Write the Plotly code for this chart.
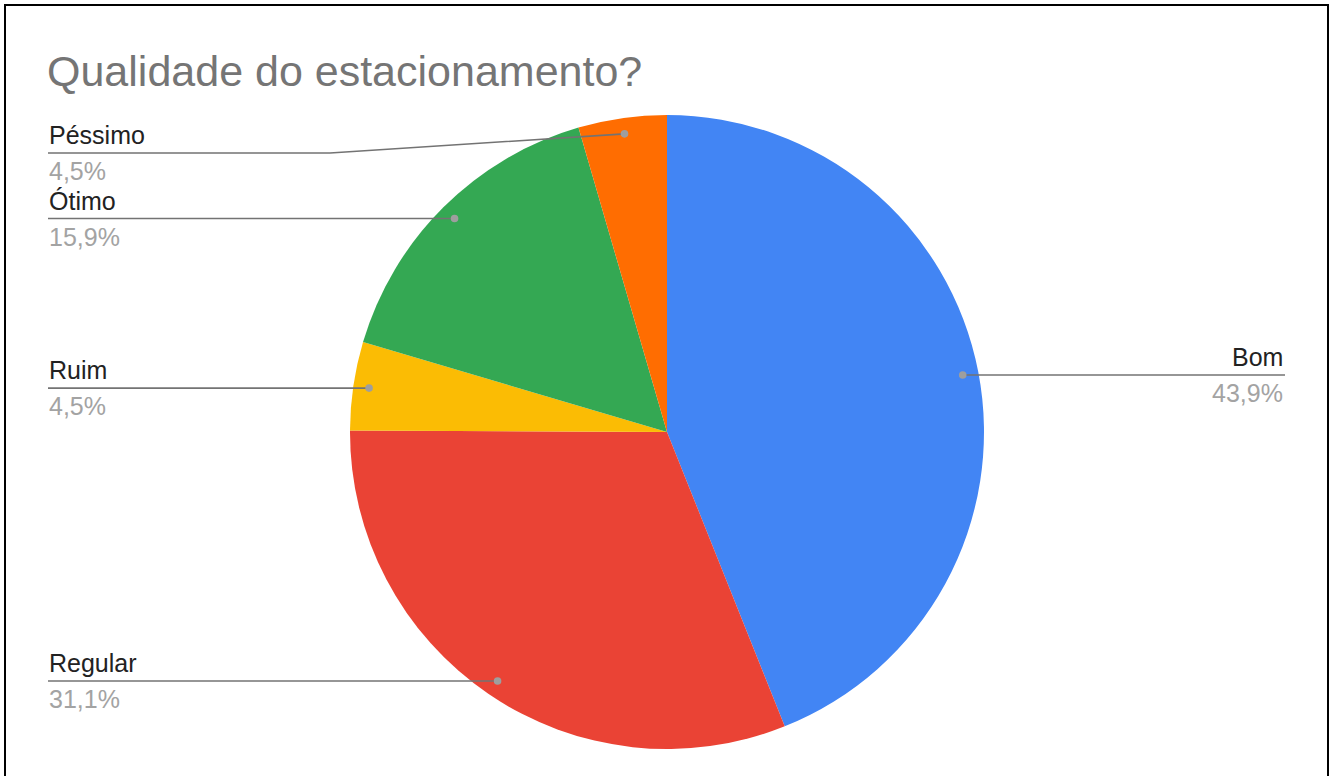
import math
import plotly.graph_objects as go

# ---- data ----
labels = ["Bom", "Regular", "Ruim", "Ótimo", "Péssimo"]
values = [43.9, 31.1, 4.5, 15.9, 4.5]          # percent
colors = ["#4285F4", "#EA4335", "#FBBC04", "#34A853", "#FF6D01"]
title_text = "Qualidade do estacionamento?"

# ---- layout constants (pixels) ----
W, H = 1333, 776
CX, CY, R = 667, 432, 317
DOT_FRAC = 0.95
LEFT_X = 48
RIGHT_X = 1285
BEND_X = 330
MIN_LINE_Y = 153
FONT = "Liberation Sans, Arial, sans-serif"


def px(x):
    return x / W


def py(y):
    return 1 - y / H


fig = go.Figure(
    go.Pie(
        labels=labels,
        values=values,
        sort=False,
        direction="clockwise",
        rotation=0,
        marker=dict(colors=colors, line=dict(width=0)),
        textinfo="none",
        hoverinfo="label+percent",
        showlegend=False,
        domain=dict(x=[px(CX - R), px(CX + R)], y=[py(CY + R), py(CY - R)]),
    )
)

shapes = []
annotations = []

total = sum(values)
cum = 0.0
for lab, val in zip(labels, values):
    theta = 2 * math.pi * (cum + val / 2) / total
    cum += val
    dx = DOT_FRAC * R * math.sin(theta)
    dy = -DOT_FRAC * R * math.cos(theta)
    dot_x, dot_y = CX + dx, CY + dy
    line_y = max(dot_y, MIN_LINE_Y)
    left = math.sin(theta) < 0
    pct = f"{val:.1f}".replace(".", ",") + "%"

    if left:
        path = (f"M {px(LEFT_X)} {py(line_y)} L {px(BEND_X)} {py(line_y)} "
                f"L {px(dot_x)} {py(dot_y)}")
        tx, anchor = LEFT_X - 1, "left"
    else:
        path = f"M {px(dot_x)} {py(dot_y)} L {px(RIGHT_X)} {py(line_y)}"
        tx, anchor = RIGHT_X, "right"

    shapes.append(dict(type="path", xref="paper", yref="paper", path=path,
                       line=dict(color="#737373", width=1.6), layer="above"))
    rd = 3.8
    shapes.append(dict(type="circle", xref="paper", yref="paper",
                       x0=px(dot_x - rd), x1=px(dot_x + rd),
                       y0=py(dot_y + rd), y1=py(dot_y - rd),
                       fillcolor="#9e9e9e", line=dict(width=0), layer="above"))

    annotations.append(dict(text=lab, x=px(tx), y=py(line_y - 18), xref="paper", yref="paper",
                            xanchor=anchor, yanchor="middle", showarrow=False,
                            font=dict(family=FONT, size=25, color="#222222")))
    annotations.append(dict(text=pct, x=px(tx), y=py(line_y + 18), xref="paper", yref="paper",
                            xanchor=anchor, yanchor="middle", showarrow=False,
                            font=dict(family=FONT, size=25, color="#a3a3a3")))

annotations.append(dict(text=title_text, x=px(LEFT_X - 3), y=py(71), xref="paper", yref="paper",
                        xanchor="left", yanchor="middle", showarrow=False,
                        font=dict(family=FONT, size=43, color="#757575")))

# outer frame
shapes.append(dict(type="rect", xref="paper", yref="paper",
                   x0=px(5), x1=px(1328), y0=py(800), y1=py(5),
                   line=dict(color="#000000", width=2), fillcolor="rgba(0,0,0,0)", layer="above"))

fig.update_layout(
    width=W, height=H,
    margin=dict(l=0, r=0, t=0, b=0),
    paper_bgcolor="white", plot_bgcolor="white",
    shapes=shapes, annotations=annotations,
)

fig.write_html("out.html")
